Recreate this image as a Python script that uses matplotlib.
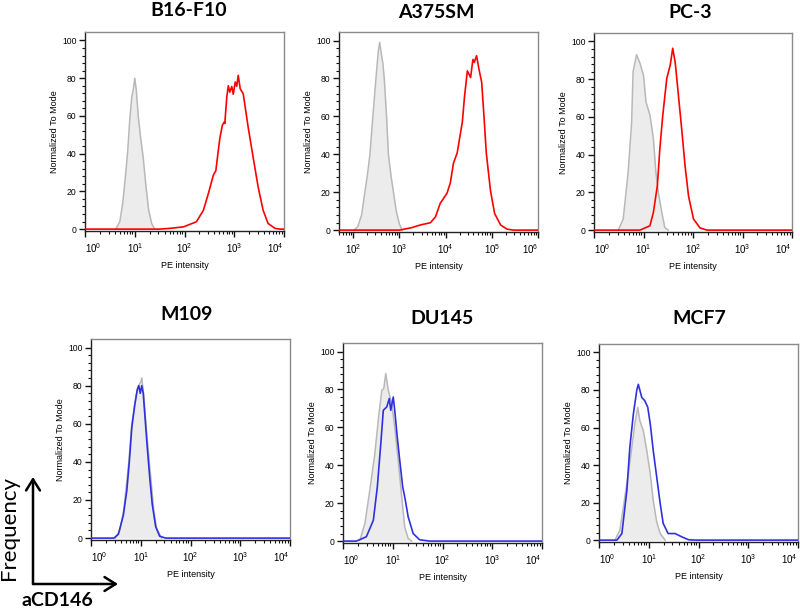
import matplotlib
matplotlib.use("Agg")
import matplotlib.pyplot as plt
import numpy as np
from matplotlib.ticker import LogLocator, FixedLocator, LogFormatterMathtext, NullFormatter
from matplotlib.patches import FancyArrowPatch

plt.rcParams["mathtext.fontset"] = "custom"
plt.rcParams["mathtext.rm"] = "Liberation Sans"
plt.rcParams["mathtext.it"] = "Liberation Sans"

# ---------------- data (x given as log10 of PE intensity) ----------------
titles = ["B16-F10", "A375SM", "PC-3", "M109", "DU145", "MCF7"]
xlims_log = [(0, 4), (1.69, 6), (0, 4), (0, 4), (0, 4), (0, 4)]
major_decades = [[0, 1, 2, 3, 4], [2, 3, 4, 5, 6], [0, 1, 2, 3, 4],
                 [0, 1, 2, 3, 4], [0, 1, 2, 3, 4], [0, 1, 2, 3, 4]]
stain_colors = ["#ff0000", "#ff0000", "#ff0000", "#3030e0", "#3030e0", "#3030e0"]

# isotype control (gray filled)
b16_ctrl_x = [0.62, 0.70, 0.76, 0.82, 0.86, 0.90, 0.94, 0.97, 1.00, 1.03, 1.07, 1.12, 1.17, 1.22, 1.28, 1.34, 1.40]
b16_ctrl_y = [0, 4, 14, 30, 42, 58, 70, 74, 80, 74, 60, 48, 38, 24, 10, 3, 0]
a375_ctrl_x = [2.02, 2.10, 2.18, 2.25, 2.31, 2.36, 2.43, 2.49, 2.54, 2.57, 2.60, 2.64, 2.67, 2.72, 2.76, 2.82, 2.87, 2.93, 3.00, 3.06]
a375_ctrl_y = [0, 2, 8, 20, 30, 40, 62, 80, 94, 99, 94, 88, 80, 60, 40, 28, 20, 10, 3, 0]
pc3_ctrl_x = [0.49, 0.59, 0.69, 0.76, 0.79, 0.86, 0.93, 1.00, 1.05, 1.13, 1.20, 1.25, 1.30, 1.37, 1.43, 1.50]
pc3_ctrl_y = [0, 5.9, 30.7, 57, 84, 93, 88.4, 82, 68, 61, 48.5, 30.7, 20, 9.4, 1.4, 0]
m109_ctrl_x = [0.49, 0.58, 0.66, 0.76, 0.82, 0.91, 0.96, 1.00, 1.02, 1.06, 1.12, 1.19, 1.26, 1.32, 1.42]
m109_ctrl_y = [0, 4, 15, 40, 60, 75, 80, 82, 84, 75, 55, 35, 15, 5, 0]
du145_ctrl_x = [0.34, 0.44, 0.54, 0.64, 0.71, 0.78, 0.82, 0.86, 0.91, 0.98, 1.04, 1.11, 1.18, 1.24, 1.31, 1.38]
du145_ctrl_y = [0.5, 9.3, 27, 46, 64, 79.6, 80.5, 88.4, 79.6, 72.6, 60, 42.7, 23.4, 7.5, 1.4, 0]
mcf7_ctrl_x = [0.32, 0.42, 0.52, 0.59, 0.66, 0.72, 0.78, 0.82, 0.89, 0.96, 1.03, 1.09, 1.16, 1.23, 1.33]
mcf7_ctrl_y = [0, 5.3, 23, 35.4, 49.5, 62, 70.8, 63.7, 58.4, 47.8, 35.4, 21.2, 9.7, 3.5, 0]

# aCD146 stained (line)
b16_stain_x = [0.00, 1.50, 1.71, 1.98, 2.24, 2.38, 2.48, 2.58, 2.63, 2.68, 2.71, 2.76, 2.80, 2.81, 2.85, 2.88, 2.91,
               2.95, 2.98, 3.02, 3.05, 3.08, 3.12, 3.18, 3.28, 3.38, 3.48, 3.58, 3.68, 3.82, 3.92, 4.00]
b16_stain_y = [0, 0, 0.4, 1.2, 3.9, 10, 18.9, 28.6, 31, 41.8, 48, 55, 56.8, 56, 70, 76, 72.6,
               75.6, 71.5, 78, 75.7, 81.5, 74.4, 71.8, 54, 38, 22.4, 10, 3, 0.4, 0, 0]
a375_stain_x = [1.69, 3.00, 3.25, 3.45, 3.67, 3.78, 3.88, 4.03, 4.10, 4.17, 4.25, 4.31, 4.36, 4.41, 4.47, 4.51, 4.54,
                4.59, 4.62, 4.67, 4.72, 4.78, 4.83, 4.88, 4.97, 5.06, 5.19, 5.33, 5.47, 6.00]
a375_stain_y = [0, 0, 1.2, 2.7, 3.9, 7, 14, 19.5, 24.8, 35.4, 40.7, 49.6, 56.7, 70.8, 84, 82, 80.5,
                90, 88.5, 92, 85, 78, 60, 40.7, 21, 8.8, 2.7, 0.5, 0, 0]
pc3_stain_x = [0.00, 0.93, 1.13, 1.20, 1.28, 1.33, 1.39, 1.47, 1.54, 1.59, 1.64, 1.70, 1.77, 1.84, 1.91, 2.01, 2.14, 2.28, 4.00]
pc3_stain_y = [0, 0, 2.3, 9.4, 23.6, 43, 61, 80.4, 87.5, 96.4, 89, 73, 54, 34, 18, 5.9, 1.2, 0, 0]
m109_stain_x = [0.00, 0.46, 0.55, 0.65, 0.72, 0.77, 0.82, 0.88, 0.93, 0.96, 0.99, 1.02, 1.05, 1.09, 1.13, 1.18, 1.23, 1.30, 1.38, 1.50, 4.00]
m109_stain_y = [0, 0, 2, 12, 25, 40, 58, 70, 78, 80, 76, 80, 76, 62, 48, 32, 18, 6, 1, 0, 0]
du145_stain_x = [0.00, 0.27, 0.47, 0.61, 0.69, 0.76, 0.81, 0.88, 0.93, 0.96, 1.01, 1.04, 1.09, 1.14, 1.20, 1.24, 1.31, 1.41, 1.54, 1.74, 4.00]
du145_stain_y = [0, 0, 2.3, 11, 28.6, 51.5, 69, 70.8, 75.2, 69, 76, 69, 55, 42.7, 28.6, 23.4, 12.8, 4, 0.7, 0, 0]
mcf7_stain_x = [0.00, 0.36, 0.46, 0.56, 0.62, 0.69, 0.76, 0.79, 0.86, 0.92, 0.98, 1.03, 1.09, 1.16, 1.23, 1.29, 1.39, 1.53, 1.66, 1.80, 1.93, 4.00]
mcf7_stain_y = [0, 0, 3.5, 26.5, 49.5, 67, 80, 83, 76, 74.3, 70.8, 62, 47.8, 33.6, 19.5, 8.9, 3.5, 3.5, 1.8, 0.2, 0, 0]

ctrl_x = [b16_ctrl_x, a375_ctrl_x, pc3_ctrl_x, m109_ctrl_x, du145_ctrl_x, mcf7_ctrl_x]
ctrl_y = [b16_ctrl_y, a375_ctrl_y, pc3_ctrl_y, m109_ctrl_y, du145_ctrl_y, mcf7_ctrl_y]
stain_x = [b16_stain_x, a375_stain_x, pc3_stain_x, m109_stain_x, du145_stain_x, mcf7_stain_x]
stain_y = [b16_stain_y, a375_stain_y, pc3_stain_y, m109_stain_y, du145_stain_y, mcf7_stain_y]

y_ticks = [0, 20, 40, 60, 80, 100]

# ---------------- layout (pixels) ----------------
W, H = 800, 612
rects = [(85, 32, 199, 199), (339, 32, 199, 200), (594, 33, 198, 199),
         (91, 339, 199, 201), (343, 343, 199, 200), (599, 344, 199, 198)]
title_pos = [(189, 10), (436, 13), (690, 13), (187, 315), (442, 319), (699, 319)]

fig = plt.figure(figsize=(W / 100, H / 100), dpi=100)

def fxy(px, py):
    return px / W, 1 - py / H

tick_font = "Liberation Sans"
for i in range(6):
    l, t, w, h = rects[i]
    ax = fig.add_axes([l / W, 1 - (t + h) / H, w / W, h / H])
    xs_c = 10 ** np.asarray(ctrl_x[i])
    ax.fill_between(xs_c, ctrl_y[i], 0, color="#ececec", lw=0, zorder=1)
    ax.plot(xs_c, ctrl_y[i], color="#b8b8b8", lw=1.1, zorder=2)
    ax.plot(10 ** np.asarray(stain_x[i]), stain_y[i], color=stain_colors[i], lw=1.2, zorder=3)
    ax.set_xscale("log")
    lo, hi = xlims_log[i]
    ax.set_xlim(10 ** lo, 10 ** hi)
    ax.set_ylim(-1, 104.5)
    ax.xaxis.set_major_locator(FixedLocator([10.0 ** d for d in major_decades[i]]))
    ax.xaxis.set_major_formatter(LogFormatterMathtext())
    ax.xaxis.set_minor_locator(LogLocator(base=10, subs=np.arange(2, 10), numticks=20))
    ax.xaxis.set_minor_formatter(NullFormatter())
    ax.set_yticks(y_ticks)
    ax.set_yticks(np.arange(0, 104, 4), minor=True)
    ax.tick_params(axis="both", which="major", direction="out", length=4, width=1,
                   labelsize=6.2, color="#111111", pad=2)
    ax.tick_params(axis="both", which="minor", direction="out", length=2, width=0.8, color="#111111")
    ax.tick_params(axis="x", which="major", pad=3, labelsize=7)
    for lab in ax.get_xticklabels() + ax.get_yticklabels():
        lab.set_family(tick_font)
    xl = ax.get_xticklabels()
    if lo == major_decades[i][0]:
        xl[0].set_horizontalalignment("left")
    xl[-1].set_horizontalalignment("right")
    for s in ["top", "right"]:
        ax.spines[s].set_color("#8a8a8a")
        ax.spines[s].set_linewidth(1.0)
    for s in ["left", "bottom"]:
        ax.spines[s].set_color("#222222")
        ax.spines[s].set_linewidth(1.0)
    ax.set_ylabel("Normalized To Mode", fontsize=6.5, family=tick_font, labelpad=2)
    ax.set_xlabel("PE intensity", fontsize=6.5, family=tick_font, labelpad=5)
    tx, ty = title_pos[i]
    fig.text(*fxy(tx, ty), titles[i], ha="center", va="center", fontsize=14,
             fontweight="bold", family="Lato")

# axis-direction arrows
p0 = fxy(33, 584)
p_up = fxy(33, 477)
p_rt = fxy(118, 584)
for p1 in (p_up, p_rt):
    arr = FancyArrowPatch(p0, p1, transform=fig.transFigure,
                          arrowstyle="->,head_length=8,head_width=5",
                          lw=1.8, color="black", shrinkA=0, shrinkB=0)
    fig.add_artist(arr)
fig.text(*fxy(9, 528), "Frequency", rotation=90, ha="center", va="center",
         fontsize=16, family="Lato")
fig.text(*fxy(57, 601), "aCD146", ha="center", va="center", fontsize=14,
         fontweight="bold", family="Lato")

fig.savefig("out.png", dpi=100)
